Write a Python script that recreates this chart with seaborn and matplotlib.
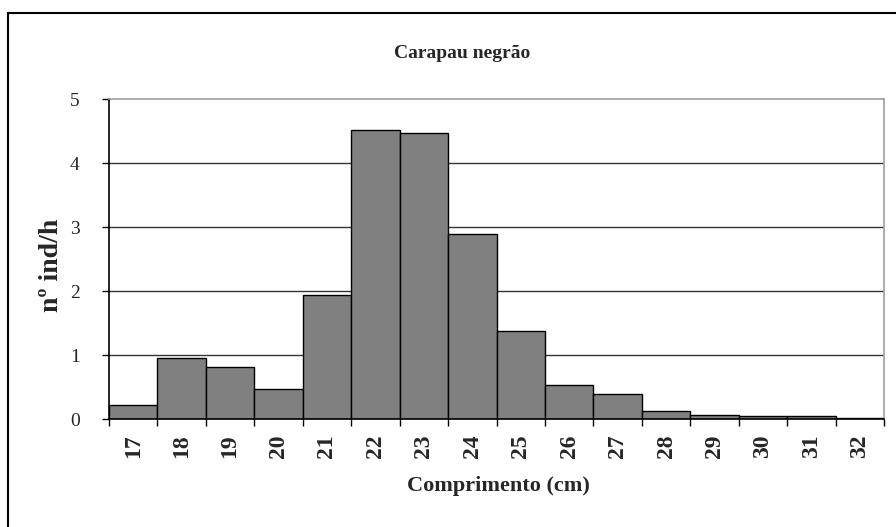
import matplotlib
matplotlib.use("Agg")
import matplotlib.pyplot as plt
import numpy as np
import pandas as pd
import seaborn as sns
from matplotlib.lines import Line2D

#%% data
comprimento = ['17', '18', '19', '20', '21', '22', '23', '24',
               '25', '26', '27', '28', '29', '30', '31', '32']
ind_h = [0.22, 0.95, 0.81, 0.47, 1.94, 4.52, 4.47, 2.89,
         1.37, 0.53, 0.39, 0.13, 0.06, 0.04, 0.04, 0.02]

df = pd.DataFrame({'Comprimento': comprimento, 'ind_h': ind_h})

#%% figure
sns.set_style('white')
plt.rcParams['font.family'] = ['Liberation Serif', 'DejaVu Serif']

fig = plt.figure(figsize=(8.96, 5.27), dpi=100)
ax = fig.add_axes([109/896, 1-419/527, 775/896, 320/527])

sns.barplot(data=df, x='Comprimento', y='ind_h', ax=ax, color='#808080',
            saturation=1, width=1.0, edgecolor='black', linewidth=1.0)

ax.set_xlim(-0.5, len(comprimento) - 0.5)
ax.set_ylim(0, 5)

# horizontal gridlines
for v in [1, 2, 3, 4]:
    ax.axhline(v, color='#333333', lw=1.0, zorder=0)

# ticks at the bar edges, labels under the bar centres
n = len(comprimento)
ax.set_xticks(np.arange(n + 1) - 0.5)
ax.set_xticklabels([])
ax.set_xticks(np.arange(n), minor=True)
ax.set_xticklabels(comprimento, minor=True, rotation=90, fontsize=17,
                   fontweight='bold')
ax.tick_params(axis='x', which='major', direction='out', length=5,
               width=1, color='black', bottom=True)
ax.tick_params(axis='x', which='minor', length=0, pad=11)

ax.set_yticks([0, 1, 2, 3, 4, 5])
ax.tick_params(axis='y', direction='out', length=5, width=1,
               color='black', left=True, labelsize=14, pad=16)

ax.set_xlabel('')
ax.set_ylabel('')

for side in ['left', 'bottom']:
    ax.spines[side].set_color('black')
    ax.spines[side].set_linewidth(1.2)
for side in ['top', 'right']:
    ax.spines[side].set_color('#a0a0a0')
    ax.spines[side].set_linewidth(1.2)

# titles
fig.text(462/896, 1-53/527, 'Carapau negrão', ha='center', va='center',
         fontsize=14, fontweight='bold')
fig.text(52/896, 1-265/527, 'nº ind/h', ha='center', va='center',
         rotation=90, fontsize=20, fontweight='bold')
fig.text(498/896, 1-486/527, 'Comprimento (cm)', ha='center', va='center',
         fontsize=16, fontweight='bold')

# outer chart frame (only left and top edges visible)
x0 = 8/896
y0 = 1 - 13/527
fig.add_artist(Line2D([x0, x0], [0, y0], transform=fig.transFigure,
                      color='black', lw=1.5))
fig.add_artist(Line2D([x0, 1], [y0, y0], transform=fig.transFigure,
                      color='black', lw=1.5))

fig.savefig('out.png', dpi=100)
